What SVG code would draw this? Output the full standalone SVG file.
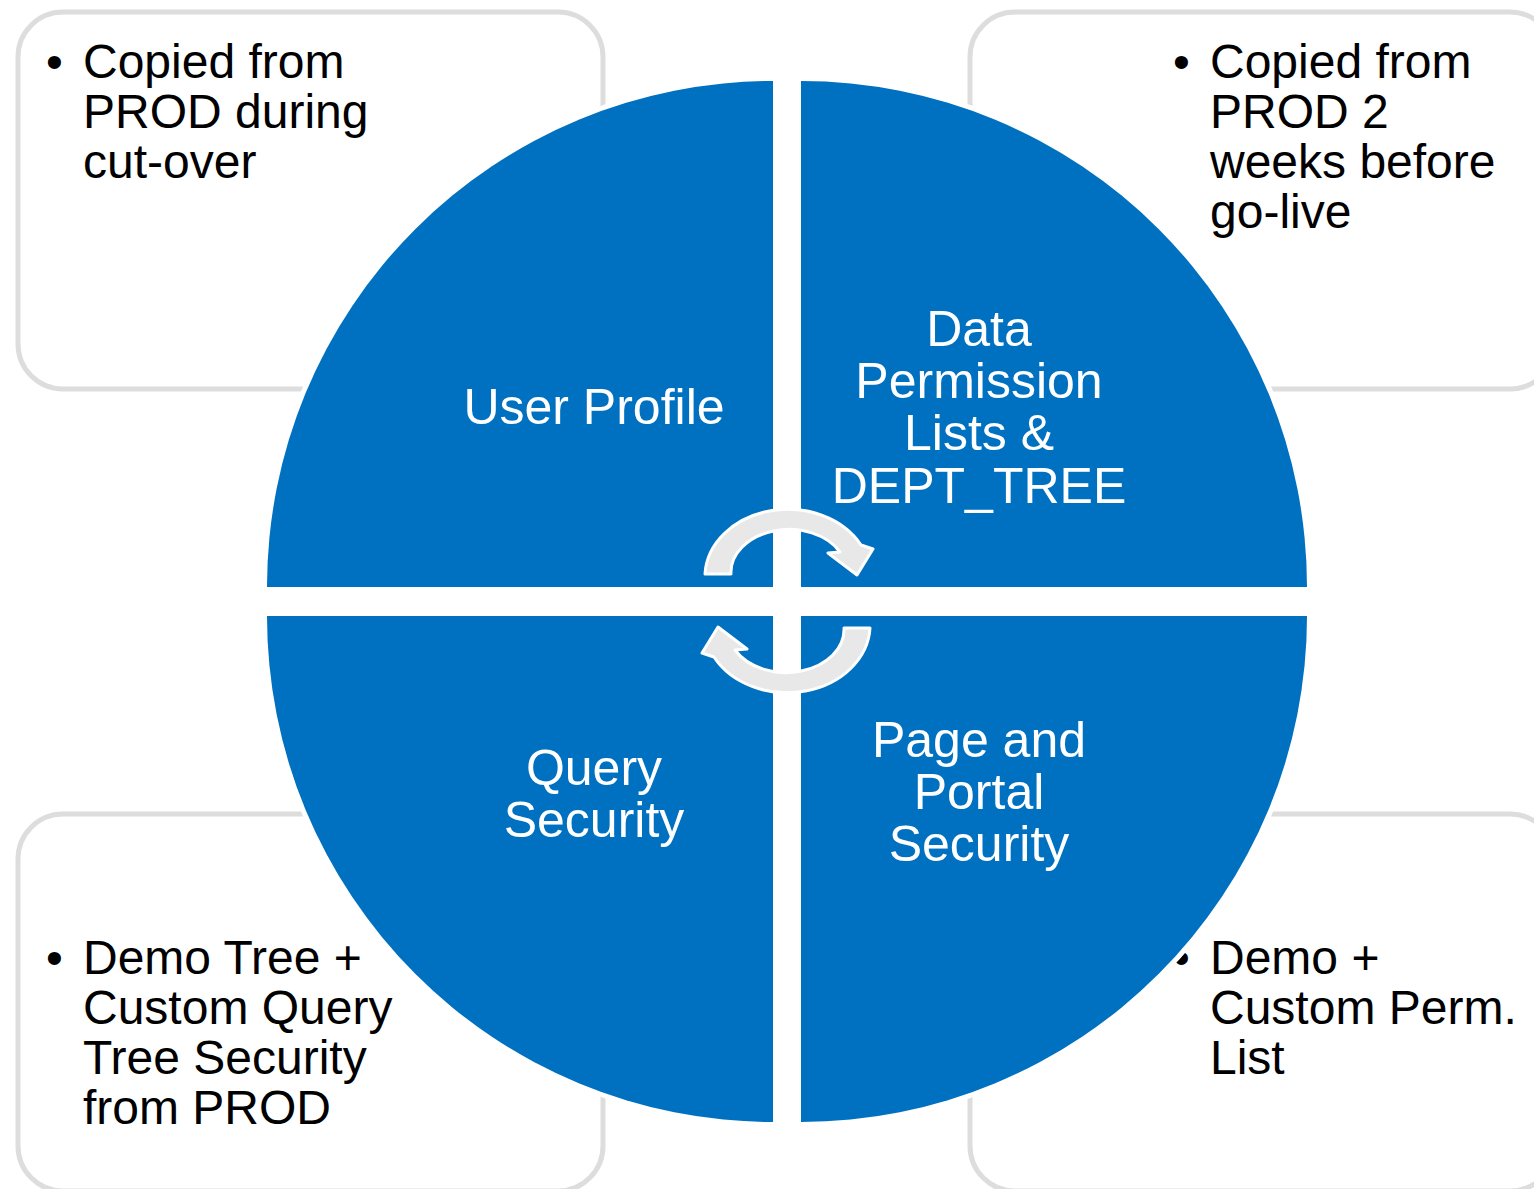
<svg xmlns="http://www.w3.org/2000/svg" width="1534" height="1189" viewBox="0 0 1534 1189">
  <style>
    .box { fill: #FFFFFF; stroke: #DDDDDD; stroke-width: 5; }
    .btxt { font-family: "Liberation Sans", Arial, sans-serif; font-size: 48px; fill: #000000; }
    .quad { fill: #0070C0; stroke: #FFFFFF; stroke-width: 10; paint-order: stroke; }
    .qtxt { font-family: "Liberation Sans", Arial, sans-serif; font-size: 50px; fill: #FFFFFF; text-anchor: middle; }
    .arrow { fill: #E8E8E8; stroke: #FFFFFF; stroke-width: 3; stroke-linejoin: round; }
  </style>
  <rect width="1534" height="1189" fill="#FFFFFF"/>

  <g id="note-top-left">
    <rect class="box" x="18" y="12" width="585" height="377" rx="45" ry="45"/>
    <text class="btxt"><tspan x="46" y="78">•</tspan><tspan x="83" y="78">Copied from</tspan><tspan x="83" y="128">PROD during</tspan><tspan x="83" y="178">cut-over</tspan></text>
  </g>
  <g id="note-top-right">
    <rect class="box" x="970" y="12" width="585" height="377" rx="45" ry="45"/>
    <text class="btxt"><tspan x="1173" y="78">•</tspan><tspan x="1210" y="78">Copied from</tspan><tspan x="1210" y="128">PROD 2</tspan><tspan x="1210" y="178">weeks before</tspan><tspan x="1210" y="228">go-live</tspan></text>
  </g>
  <g id="note-bottom-left">
    <rect class="box" x="18" y="814" width="585" height="377" rx="45" ry="45"/>
    <text class="btxt"><tspan x="46" y="974">•</tspan><tspan x="83" y="974">Demo Tree +</tspan><tspan x="83" y="1024">Custom Query</tspan><tspan x="83" y="1074">Tree Security</tspan><tspan x="83" y="1124">from PROD</tspan></text>
  </g>
  <g id="note-bottom-right">
    <rect class="box" x="970" y="814" width="585" height="377" rx="45" ry="45"/>
    <text class="btxt"><tspan x="1173" y="974">•</tspan><tspan x="1210" y="974">Demo +</tspan><tspan x="1210" y="1024">Custom Perm.</tspan><tspan x="1210" y="1074">List</tspan></text>
  </g>

  <g id="user-profile">
    <path class="quad" d="M773 587 L267 587 A506 506 0 0 1 773 81 Z"/>
    <text class="qtxt" x="594" y="424">User Profile</text>
  </g>
  <g id="data-permission">
    <path class="quad" d="M801 587 L801 81 A506 506 0 0 1 1307 587 Z"/>
    <text class="qtxt"><tspan x="979" y="346">Data</tspan><tspan x="979" y="398">Permission</tspan><tspan x="979" y="450">Lists &amp;</tspan><tspan x="979" y="503">DEPT_TREE</tspan></text>
  </g>
  <g id="query-security">
    <path class="quad" d="M773 616 L773 1122 A506 506 0 0 1 267 616 Z"/>
    <text class="qtxt"><tspan x="594" y="785">Query</tspan><tspan x="594" y="837">Security</tspan></text>
  </g>
  <g id="page-portal-security">
    <path class="quad" d="M801 616 L1307 616 A506 506 0 0 1 801 1122 Z"/>
    <text class="qtxt"><tspan x="979" y="757">Page and</tspan><tspan x="979" y="809">Portal</tspan><tspan x="979" y="861">Security</tspan></text>
  </g>

  <g id="connectors">
    <path id="arrow-top" class="arrow" d="M705 574 A83 68 0 0 1 861 545 L873 549 L857 575 L828 553 L840 552 A58 43 0 0 0 731 574 Z"/>
    <path id="arrow-bottom" class="arrow" transform="rotate(180 787.5 601)" d="M705 574 A83 68 0 0 1 861 545 L873 549 L857 575 L828 553 L840 552 A58 43 0 0 0 731 574 Z"/>
  </g>
</svg>
